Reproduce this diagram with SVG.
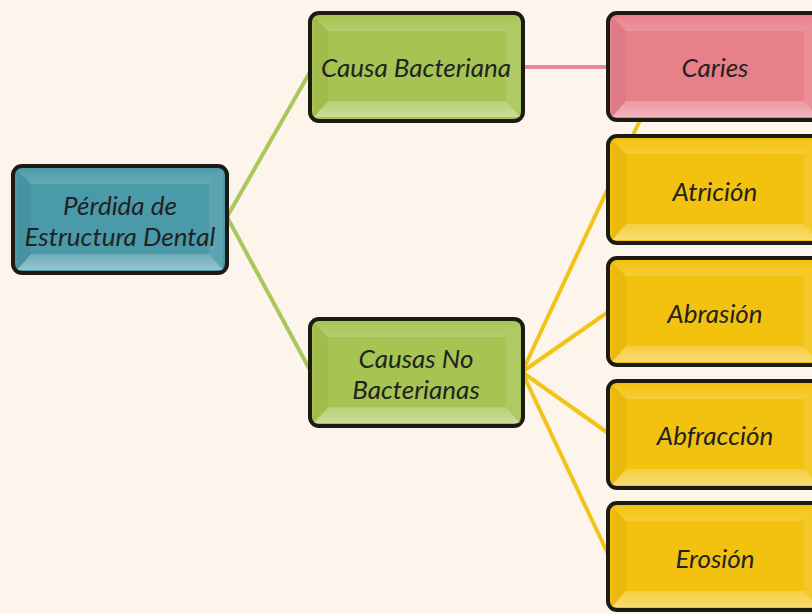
<svg xmlns="http://www.w3.org/2000/svg" width="812" height="614" viewBox="0 0 812 614">
<style>
.bx{stroke:#1b1b14;stroke-width:4}
.t{font-family:Lato,"Open Sans","Liberation Sans",sans-serif;font-style:italic;font-size:26px;fill:#222;text-anchor:middle}
.c{fill:none;stroke-width:4;stroke-linecap:round}
</style>
<defs>
<linearGradient id="gTop" x1="0" y1="0" x2="0" y2="1"><stop offset="0" stop-color="#fff" stop-opacity="0.04"/><stop offset="1" stop-color="#fff" stop-opacity="0.16"/></linearGradient>
<linearGradient id="gBot" x1="0" y1="0" x2="0" y2="1"><stop offset="0" stop-color="#fff" stop-opacity="0.2"/><stop offset="1" stop-color="#fff" stop-opacity="0.42"/></linearGradient>
<symbol id="bev" overflow="visible">
<polygon points="4,4 210,4 196,18 18,18" fill="url(#gTop)"/>
<polygon points="4,104 210,104 196,88 18,88" fill="url(#gBot)"/>
<polygon points="4,4 18,18 18,88 4,104" fill="#000" opacity="0.04"/>
<polygon points="210,4 196,18 196,88 210,104" fill="#fff" opacity="0.1"/>
</symbol>
</defs>
<rect width="812" height="614" fill="#fdf5ec"/>
<g id="connectors">
<line class="c" x1="227" y1="217" x2="310" y2="72" stroke="#a9c75a"/>
<line class="c" x1="227" y1="217" x2="310" y2="370" stroke="#a9c75a"/>
<line class="c" x1="523" y1="67" x2="608" y2="67" stroke="#e6889a"/>
<line class="c" x1="522" y1="372" x2="641" y2="118" stroke="#f2c419"/>
<line class="c" x1="522" y1="372" x2="608" y2="312" stroke="#f2c419"/>
<line class="c" x1="522" y1="372" x2="608" y2="433" stroke="#f2c419"/>
<line class="c" x1="522" y1="372" x2="608" y2="554" stroke="#f2c419"/>
</g>
<g id="perdida" transform="translate(13,166)">
<rect class="bx" width="214" height="107" rx="9" fill="#4a9aa9"/>
<use href="#bev"/>
<text class="t" x="107" y="49">Pérdida de</text>
<text class="t" x="107" y="80">Estructura Dental</text>
</g>
<g id="causa-bacteriana" transform="translate(310,13)">
<rect class="bx" width="213" height="108" rx="9" fill="#a6c451"/>
<use href="#bev"/>
<text class="t" x="106" y="64">Causa Bacteriana</text>
</g>
<g id="causas-no-bacterianas" transform="translate(310,319)">
<rect class="bx" width="213" height="107" rx="9" fill="#a6c451"/>
<use href="#bev"/>
<text class="t" x="106" y="49">Causas No</text>
<text class="t" x="106" y="80">Bacterianas</text>
</g>
<g id="caries" transform="translate(608,13)">
<rect class="bx" width="214" height="107" rx="9" fill="#e8808a"/>
<use href="#bev"/>
<text class="t" x="107" y="64">Caries</text>
</g>
<g id="atricion" transform="translate(608,136)">
<rect class="bx" width="214" height="107" rx="9" fill="#f3c20e"/>
<use href="#bev"/>
<text class="t" x="107" y="65">Atrición</text>
</g>
<g id="abrasion" transform="translate(608,258)">
<rect class="bx" width="214" height="107" rx="9" fill="#f3c20e"/>
<use href="#bev"/>
<text class="t" x="107" y="65">Abrasión</text>
</g>
<g id="abfraccion" transform="translate(608,381)">
<rect class="bx" width="214" height="107" rx="9" fill="#f3c20e"/>
<use href="#bev"/>
<text class="t" x="107" y="64">Abfracción</text>
</g>
<g id="erosion" transform="translate(608,503)">
<rect class="bx" width="214" height="107" rx="9" fill="#f3c20e"/>
<use href="#bev"/>
<text class="t" x="107" y="65">Erosión</text>
</g>
</svg>
